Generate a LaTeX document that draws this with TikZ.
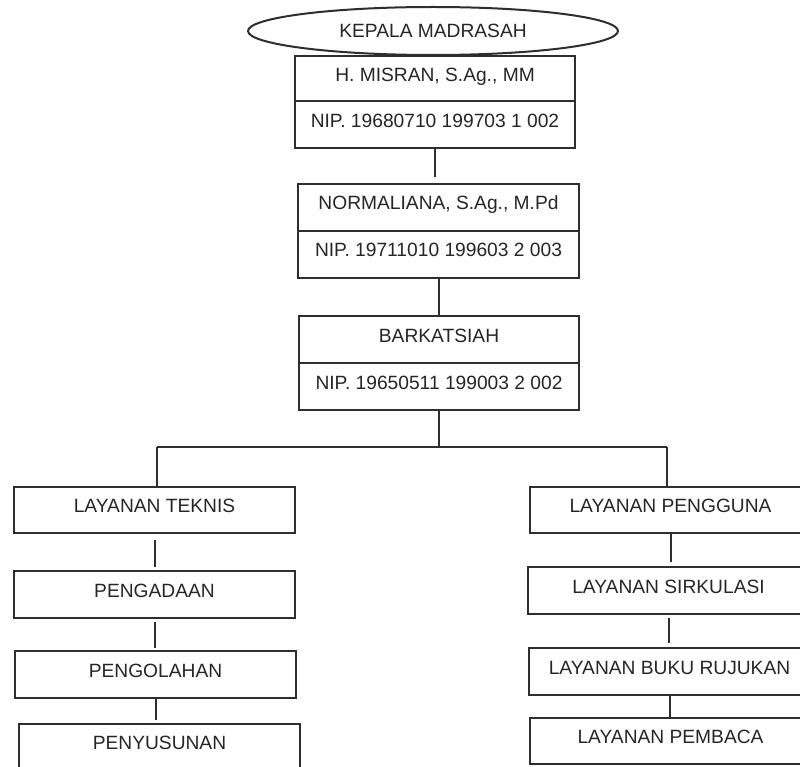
\documentclass[tikz,border=0pt]{standalone}
\usepackage{fontspec}
\setmainfont{Liberation Sans}
\usetikzlibrary{shapes.geometric}
\definecolor{lc}{HTML}{2E2E2E}
\definecolor{tc}{HTML}{262626}
\begin{document}
\begin{tikzpicture}[x=1pt,y=-1pt,
  txt/.style={text=tc, font=\fontsize{19.2}{22}\selectfont},
  cell/.style={txt, draw=lc, line width=2pt, inner xsep=0pt, inner ysep=0pt,
    minimum width=281pt, text height=25pt, text depth=21pt, anchor=north west},
  tall/.style={text height=26pt},
  conn/.style={draw=lc, line width=2pt}]
\useasboundingbox (0,0) rectangle (800,767);
\clip (0,0) rectangle (800,767);
\fill[white] (0,0) rectangle (800,767);
% top
\node[txt, ellipse, draw=lc, line width=2pt, minimum width=370pt, minimum height=48pt, inner sep=0pt] (head) at (433,31) {KEPALA MADRASAH};
\node[cell, minimum width=280pt, text height=26pt, text depth=19pt] (b1a) at (294,55) {H. MISRAN, S.Ag., MM};
\node[cell, minimum width=280pt, text height=27pt, text depth=20pt] (b1b) at (294,100) {NIP. 19680710 199703 1 002};
\node[cell, tall] (b2a) at (297,183) {NORMALIANA, S.Ag., M.Pd};
\node[cell, tall] (b2b) at (297,230) {NIP. 19711010 199603 2 003};
\node[cell, minimum width=280pt, tall] (b3a) at (298,315) {BARKATSIAH};
\node[cell, minimum width=280pt, tall] (b3b) at (298,362) {NIP. 19650511 199003 2 002};
% left column
\node[cell] (L1) at (13,486) {LAYANAN TEKNIS};
\node[cell, tall] (L2) at (13,570) {PENGADAAN};
\node[cell, tall] (L3) at (14,650) {PENGOLAHAN};
\node[cell, text depth=45pt] (L4) at (18,723) {PENYUSUNAN};
% right column
\node[cell] (R1) at (529,486) {LAYANAN PENGGUNA};
\node[cell, tall] (R2) at (527,566) {LAYANAN SIRKULASI};
\node[cell, tall] (R3) at (528,647) {LAYANAN BUKU RUJUKAN};
\node[cell] (R4) at (529,717) {LAYANAN PEMBACA};
% connectors
\coordinate (jl) at (157,447);
\coordinate (jr) at (667,447);
\draw[conn, shorten >=6pt] (b1b.south) -- (b1b.south |- b2a.north);
\draw[conn] (b2b.south) -- (b2b.south |- b3a.north);
\draw[conn] (b3b.south) -- (b3b.south |- jl);
\draw[conn] (jl) -- (jr);
\draw[conn] (jl) -- (jl |- L1.north);
\draw[conn] (jr) -- (jr |- R1.north);
\draw[conn, shorten <=6pt, shorten >=3pt] (L1.south) -- (L1.south |- L2.north);
\draw[conn, shorten <=3pt, shorten >=2pt] (L2.south) -- (L2.south |- L3.north);
\draw[conn, shorten >=3pt] (L3.south) -- (L3.south |- L4.north);
\draw[conn, shorten >=4pt] (R1.south) -- (R1.south |- R2.north);
\draw[conn, shorten <=3pt, shorten >=4pt] (R2.south) -- (R2.south |- R3.north);
\draw[conn] (R3.south) -- (R3.south |- R4.north);
\end{tikzpicture}
\end{document}
